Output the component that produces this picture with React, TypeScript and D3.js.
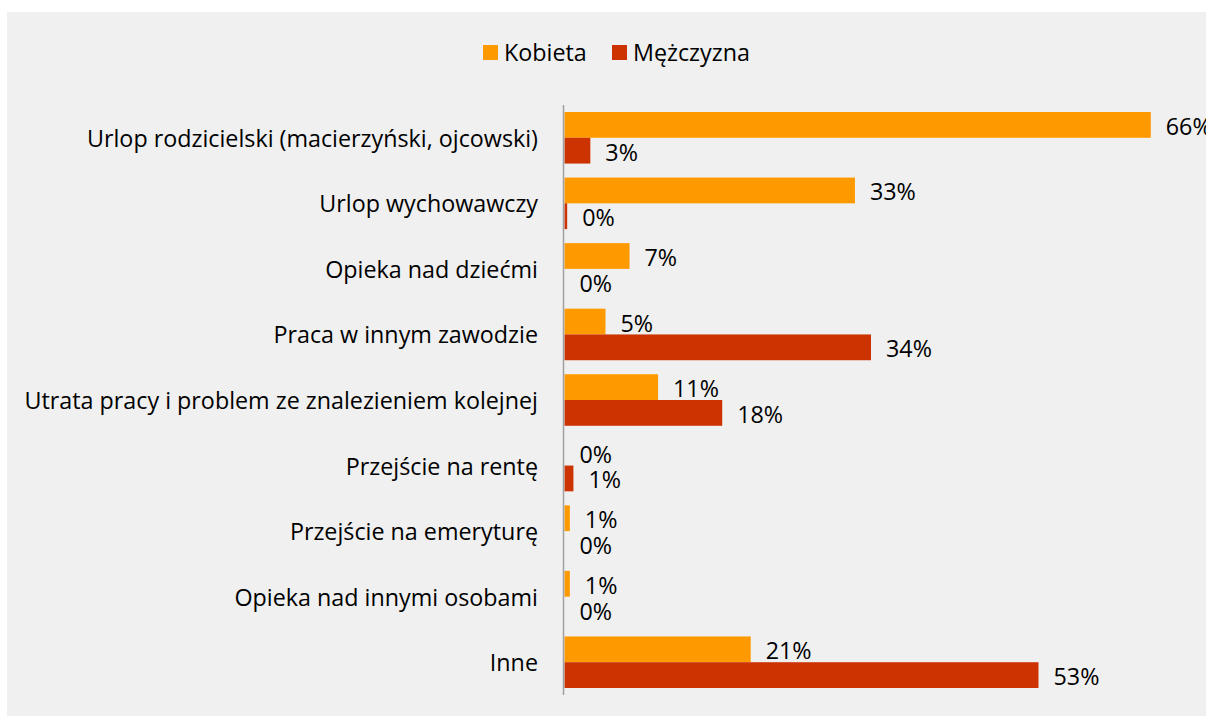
import React, { useEffect, useRef } from "react";
import { select, scaleLinear, scaleBand } from "d3";

// categories from top to bottom
const categories = [
  "Urlop rodzicielski (macierzyński, ojcowski)",
  "Urlop wychowawczy",
  "Opieka nad dziećmi",
  "Praca w innym zawodzie",
  "Utrata pracy i problem ze znalezieniem kolejnej",
  "Przejście na rentę",
  "Przejście na emeryturę",
  "Opieka nad innymi osobami",
  "Inne"
];

// values in percent
const kobieta = [65.8, 32.6, 7.3, 4.6, 10.5, 0, 0.6, 0.6, 20.9];
const mezczyzna = [2.9, 0.3, 0, 34.4, 17.7, 1.0, 0, 0, 53.2];

const seriesNames = ["Kobieta", "Mężczyzna"];
const seriesColors = ["#FF9900", "#CC3300"];

const FONT = "'Open Sans', 'Noto Sans', sans-serif";
const FONT_SIZE = 23.3;

export default function App() {
  const ref = useRef<SVGSVGElement>(null);

  useEffect(() => {
    const svg = select(ref.current);
    svg.selectAll("*").remove();
    const width = 1206;
    const height = 716;

    // grey chart area
    svg.append("rect")
      .attr("x", 7).attr("y", 12)
      .attr("width", width - 7).attr("height", height - 12)
      .attr("fill", "#F0F0F0");

    const xScale = scaleLinear().domain([0, 70]).range([564.5, 564.5 + 70 * 8.91]);

    const yScale = scaleBand<string>()
      .domain(categories)
      .range([105, 695])
      .paddingInner(0.2136)
      .paddingOuter(0.1068);

    const subScale = scaleBand<string>()
      .domain(seriesNames)
      .range([0, yScale.bandwidth()]);

    const rows = categories.map((c, i) => ({ cat: c, values: [kobieta[i], mezczyzna[i]] }));

    const g = svg.append("g");

    // category labels
    g.selectAll("text.cat")
      .data(rows)
      .enter()
      .append("text")
      .attr("class", "cat")
      .attr("x", 538)
      .attr("y", d => (yScale(d.cat) as number) + yScale.bandwidth() / 2)
      .attr("text-anchor", "end")
      .attr("dominant-baseline", "central")
      .attr("font-family", FONT)
      .attr("font-size", FONT_SIZE)
      .attr("fill", "#000")
      .text(d => d.cat);

    seriesNames.forEach((s, si) => {
      const y0 = (d: { cat: string }) => (yScale(d.cat) as number) + (subScale(s) as number);

      g.selectAll(`rect.s${si}`)
        .data(rows)
        .enter()
        .append("rect")
        .attr("class", `s${si}`)
        .attr("x", xScale(0))
        .attr("y", d => y0(d))
        .attr("width", d => xScale(d.values[si]) - xScale(0))
        .attr("height", subScale.bandwidth())
        .attr("fill", seriesColors[si]);

      g.selectAll(`text.l${si}`)
        .data(rows)
        .enter()
        .append("text")
        .attr("class", `l${si}`)
        .attr("x", d => xScale(d.values[si]) + 15)
        .attr("y", d => y0(d) + subScale.bandwidth() / 2 + 1)
        .attr("dominant-baseline", "central")
        .attr("font-family", FONT)
        .attr("font-size", FONT_SIZE)
        .attr("fill", "#000")
        .text(d => `${Math.round(d.values[si])}%`);
    });

    // vertical axis line
    g.append("line")
      .attr("x1", 563.5).attr("x2", 563.5)
      .attr("y1", 105).attr("y2", 695)
      .attr("stroke", "#A0A0A0")
      .attr("stroke-width", 1.5);

    // legend
    const legendX = [483, 612];
    seriesNames.forEach((s, si) => {
      svg.append("rect")
        .attr("x", legendX[si]).attr("y", 45)
        .attr("width", 15).attr("height", 15)
        .attr("fill", seriesColors[si]);
      svg.append("text")
        .attr("x", legendX[si] + 21)
        .attr("y", 52)
        .attr("dominant-baseline", "central")
        .attr("font-family", FONT)
        .attr("font-size", FONT_SIZE)
        .attr("fill", "#000")
        .text(s);
    });
  }, []);

  return (
    <div style={{ position: "absolute", left: 0, top: 0 }}>
      <svg ref={ref} width={1206} height={716} style={{ display: "block" }} />
    </div>
  );
}
